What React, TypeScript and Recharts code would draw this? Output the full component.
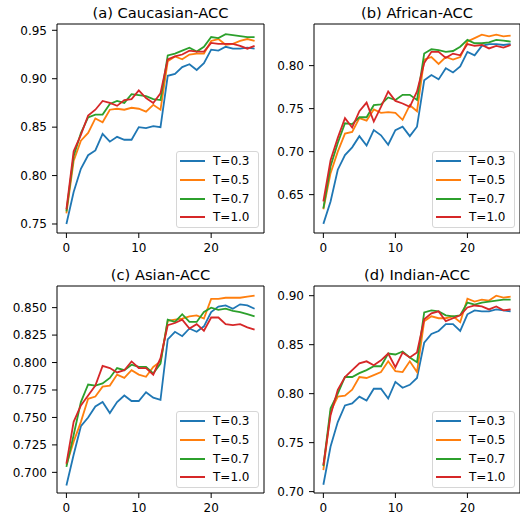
import React from "react";
import { Legend, Line, LineChart, ReferenceArea, XAxis, YAxis } from "recharts";

const EPOCHS = [0, 1, 2, 3, 4, 5, 6, 7, 8, 9, 10, 11, 12, 13, 14, 15, 16, 17, 18, 19, 20, 21, 22, 23, 24, 25, 26];
const X_TICKS = [0, 10, 20];

// (a) Caucasian
const caucasianT03 = [0.750, 0.783, 0.807, 0.821, 0.826, 0.843, 0.835, 0.840, 0.837, 0.837, 0.850, 0.849, 0.851, 0.850, 0.903, 0.905, 0.912, 0.915, 0.909, 0.916, 0.930, 0.929, 0.933, 0.931, 0.931, 0.932, 0.931];
const caucasianT05 = [0.761, 0.815, 0.836, 0.844, 0.859, 0.855, 0.868, 0.869, 0.868, 0.870, 0.869, 0.866, 0.873, 0.868, 0.918, 0.923, 0.920, 0.925, 0.926, 0.926, 0.939, 0.941, 0.935, 0.936, 0.939, 0.941, 0.939];
const caucasianT07 = [0.763, 0.820, 0.844, 0.860, 0.863, 0.863, 0.874, 0.877, 0.875, 0.884, 0.883, 0.882, 0.879, 0.878, 0.924, 0.926, 0.929, 0.932, 0.928, 0.933, 0.943, 0.942, 0.946, 0.945, 0.944, 0.943, 0.943];
const caucasianT10 = [0.765, 0.825, 0.842, 0.862, 0.868, 0.877, 0.875, 0.872, 0.878, 0.879, 0.888, 0.880, 0.875, 0.885, 0.920, 0.923, 0.925, 0.929, 0.928, 0.928, 0.937, 0.936, 0.936, 0.936, 0.934, 0.931, 0.934];
const caucasianTicks = [0.75, 0.8, 0.85, 0.9, 0.95];

// (b) African
const africanT03 = [0.616, 0.642, 0.679, 0.696, 0.705, 0.718, 0.707, 0.725, 0.719, 0.708, 0.725, 0.729, 0.718, 0.729, 0.783, 0.789, 0.784, 0.797, 0.792, 0.799, 0.816, 0.812, 0.823, 0.825, 0.825, 0.824, 0.825];
const africanT05 = [0.633, 0.675, 0.700, 0.721, 0.723, 0.739, 0.736, 0.749, 0.745, 0.746, 0.745, 0.737, 0.754, 0.747, 0.807, 0.810, 0.802, 0.810, 0.807, 0.810, 0.828, 0.832, 0.836, 0.834, 0.836, 0.834, 0.835];
const africanT07 = [0.634, 0.683, 0.710, 0.733, 0.732, 0.740, 0.740, 0.754, 0.755, 0.763, 0.760, 0.766, 0.766, 0.760, 0.814, 0.819, 0.818, 0.816, 0.817, 0.822, 0.830, 0.826, 0.826, 0.827, 0.830, 0.829, 0.828];
const africanT10 = [0.642, 0.690, 0.716, 0.739, 0.728, 0.747, 0.757, 0.735, 0.752, 0.770, 0.759, 0.756, 0.752, 0.770, 0.803, 0.816, 0.816, 0.809, 0.814, 0.812, 0.825, 0.823, 0.824, 0.820, 0.823, 0.821, 0.824];
const africanTicks = [0.65, 0.7, 0.75, 0.8];

// (c) Asian
const asianT03 = [0.688, 0.716, 0.742, 0.750, 0.760, 0.764, 0.754, 0.764, 0.770, 0.765, 0.765, 0.773, 0.768, 0.766, 0.821, 0.828, 0.824, 0.831, 0.828, 0.833, 0.846, 0.851, 0.852, 0.849, 0.853, 0.852, 0.849];
const asianT05 = [0.707, 0.728, 0.746, 0.767, 0.769, 0.778, 0.779, 0.789, 0.786, 0.793, 0.789, 0.787, 0.796, 0.801, 0.838, 0.839, 0.840, 0.842, 0.843, 0.840, 0.858, 0.858, 0.859, 0.859, 0.859, 0.860, 0.861];
const asianT07 = [0.705, 0.734, 0.764, 0.780, 0.779, 0.781, 0.786, 0.795, 0.793, 0.798, 0.796, 0.796, 0.790, 0.799, 0.839, 0.837, 0.844, 0.837, 0.837, 0.846, 0.850, 0.848, 0.849, 0.847, 0.846, 0.844, 0.842];
const asianT10 = [0.708, 0.746, 0.761, 0.770, 0.779, 0.797, 0.795, 0.791, 0.793, 0.801, 0.795, 0.795, 0.789, 0.804, 0.834, 0.836, 0.839, 0.831, 0.835, 0.829, 0.841, 0.841, 0.835, 0.834, 0.835, 0.832, 0.830];
const asianTicks = [0.7, 0.725, 0.75, 0.775, 0.8, 0.825, 0.85];

// (d) Indian
const indianT03 = [0.707, 0.746, 0.771, 0.788, 0.790, 0.797, 0.793, 0.805, 0.805, 0.795, 0.812, 0.806, 0.809, 0.816, 0.852, 0.861, 0.864, 0.871, 0.871, 0.864, 0.881, 0.885, 0.884, 0.884, 0.886, 0.885, 0.884];
const indianT05 = [0.722, 0.782, 0.797, 0.798, 0.804, 0.817, 0.816, 0.819, 0.822, 0.833, 0.823, 0.822, 0.833, 0.822, 0.874, 0.879, 0.877, 0.877, 0.879, 0.873, 0.897, 0.894, 0.896, 0.895, 0.900, 0.898, 0.899];
const indianT07 = [0.726, 0.785, 0.800, 0.817, 0.817, 0.821, 0.824, 0.828, 0.828, 0.841, 0.840, 0.843, 0.837, 0.832, 0.883, 0.885, 0.884, 0.880, 0.879, 0.880, 0.893, 0.891, 0.893, 0.894, 0.895, 0.896, 0.896];
const indianT10 = [0.727, 0.778, 0.804, 0.817, 0.824, 0.831, 0.833, 0.829, 0.834, 0.841, 0.827, 0.842, 0.837, 0.842, 0.876, 0.882, 0.884, 0.874, 0.877, 0.880, 0.888, 0.890, 0.889, 0.886, 0.889, 0.885, 0.886];
const indianTicks = [0.7, 0.75, 0.8, 0.85, 0.9];

const SERIES = [
  { key: "t03", name: "T=0.3", color: "#1f77b4" },
  { key: "t05", name: "T=0.5", color: "#ff7f0e" },
  { key: "t07", name: "T=0.7", color: "#2ca02c" },
  { key: "t10", name: "T=1.0", color: "#d62728" },
];

const buildRows = (t03: number[], t05: number[], t07: number[], t10: number[]) =>
  EPOCHS.map((epoch, i) => ({ epoch, t03: t03[i], t05: t05[i], t07: t07[i], t10: t10[i] }));

const PANELS = [
  {
    title: "(a) Caucasian-ACC",
    rows: buildRows(caucasianT03, caucasianT05, caucasianT07, caucasianT10),
    domain: [0.7407, 0.9565],
    ticks: caucasianTicks,
    digits: 2,
    left: 57, top: 24, w: 207, h: 209,
  },
  {
    title: "(b) African-ACC",
    rows: buildRows(africanT03, africanT05, africanT07, africanT10),
    domain: [0.6054, 0.8484],
    ticks: africanTicks,
    digits: 2,
    left: 314, top: 24, w: 206, h: 209,
  },
  {
    title: "(c) Asian-ACC",
    rows: buildRows(asianT03, asianT05, asianT07, asianT10),
    domain: [0.6812, 0.8697],
    ticks: asianTicks,
    digits: 3,
    left: 57, top: 286, w: 207, h: 207,
  },
  {
    title: "(d) Indian-ACC",
    rows: buildRows(indianT03, indianT05, indianT07, indianT10),
    domain: [0.6986, 0.9099],
    ticks: indianTicks,
    digits: 2,
    left: 314, top: 286, w: 206, h: 207,
  },
];

const X_DOMAIN = [-1.3, 27.3];
const AXIS_W = 57;
const AXIS_H = 24;
const TOP = 24;
const RIGHT = 6;

const renderLegend = (props: any) => (
  <div
    style={{
      boxSizing: "border-box",
      width: 83,
      height: 77,
      border: "1px solid #d6d6d6",
      borderRadius: 3,
      background: "rgba(255,255,255,0.8)",
    }}
  >
    {(props.payload || []).map((p: any) => (
      <div key={p.value} style={{ display: "flex", alignItems: "center", height: 18.7 }}>
        <span style={{ marginLeft: 3, width: 25, height: 2, background: p.color }} />
        <span style={{ marginLeft: 8, fontSize: 12, lineHeight: "14px", color: "#000" }}>{p.value}</span>
      </div>
    ))}
  </div>
);

function Panel({ panel }: { panel: (typeof PANELS)[number] }) {
  const width = AXIS_W + panel.w + RIGHT;
  const height = TOP + panel.h + AXIS_H;
  return (
    <div style={{ position: "absolute", left: panel.left - AXIS_W, top: panel.top - TOP, width, height }}>
      <div
        style={{
          position: "absolute",
          left: AXIS_W,
          top: 5,
          width: panel.w,
          textAlign: "center",
          fontSize: 14.7,
          lineHeight: "16px",
          color: "#000",
        }}
      >
        {panel.title}
      </div>
      <LineChart width={width} height={height} data={panel.rows} margin={{ top: TOP, right: RIGHT, bottom: 0, left: 0 }}>
        <XAxis
          dataKey="epoch"
          type="number"
          domain={X_DOMAIN}
          ticks={X_TICKS}
          allowDataOverflow
          height={AXIS_H}
          axisLine={false}
          tickLine={{ stroke: "#000" }}
          tickSize={5}
          tickMargin={5}
          tick={{ fill: "#000", fontSize: 12 }}
        />
        <YAxis
          type="number"
          domain={panel.domain}
          ticks={panel.ticks}
          allowDataOverflow
          width={AXIS_W}
          axisLine={false}
          tickLine={{ stroke: "#000" }}
          tickSize={5}
          tickMargin={5}
          tick={{ fill: "#000", fontSize: 12 }}
          tickFormatter={(v: number) => v.toFixed(panel.digits)}
        />
        <ReferenceArea
          x1={X_DOMAIN[0]}
          x2={X_DOMAIN[1]}
          y1={panel.domain[0]}
          y2={panel.domain[1]}
          fill="none"
          stroke="#000"
          strokeWidth={1}
          ifOverflow="visible"
        />
        {SERIES.map((s) => (
          <Line
            key={s.key}
            dataKey={s.key}
            name={s.name}
            type="linear"
            stroke={s.color}
            strokeWidth={1.8}
            dot={false}
            activeDot={false}
            isAnimationActive={false}
          />
        ))}
        <Legend
          layout="vertical"
          align="center"
          verticalAlign="middle"
          content={renderLegend}
          wrapperStyle={{
            left: AXIS_W + panel.w - 5 - 83,
            top: TOP + panel.h - 5 - 77,
            width: 83,
            height: 77,
          }}
        />
      </LineChart>
    </div>
  );
}

export default function App() {
  return (
    <div
      style={{
        position: "absolute",
        left: 0,
        top: 0,
        width: 520,
        height: 515,
        overflow: "hidden",
        background: "#fff",
        fontFamily: "'DejaVu Sans', sans-serif",
      }}
    >
      {PANELS.map((p) => (
        <Panel key={p.title} panel={p} />
      ))}
    </div>
  );
}
